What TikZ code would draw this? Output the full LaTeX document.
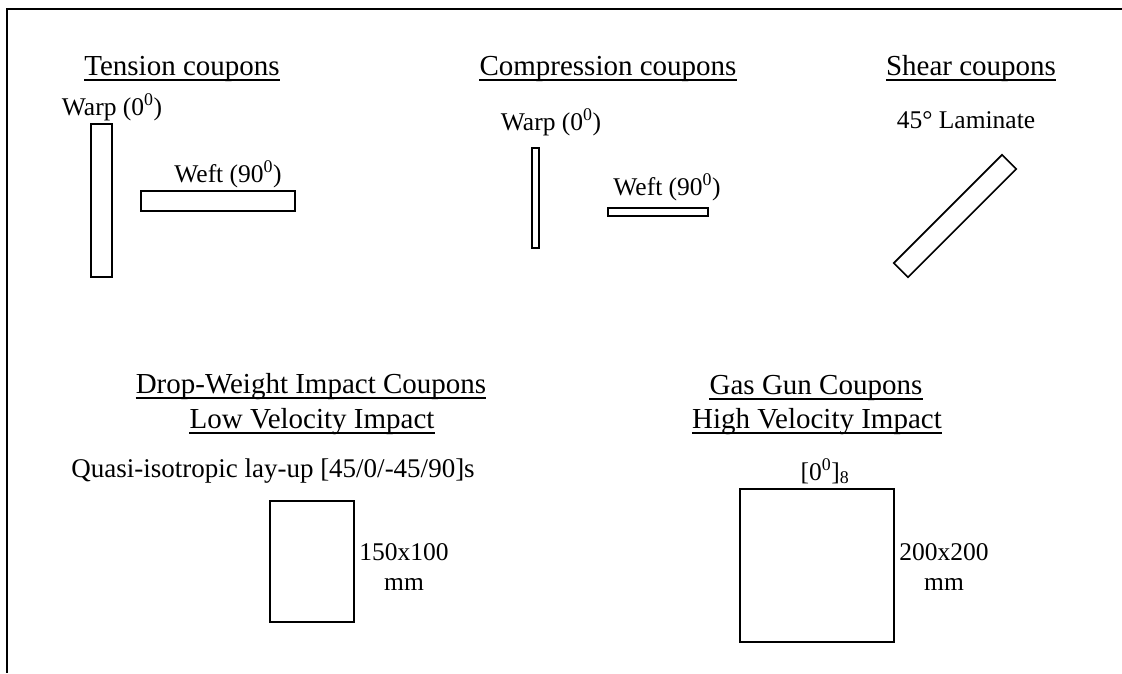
\documentclass[tikz,border=0pt]{standalone}
\usepackage{fontspec}
\setmainfont{Liberation Serif}
\usetikzlibrary{positioning}
\tikzset{
  heading/.style={inner sep=0pt,anchor=base,font=\fontsize{29}{35}\selectfont},
  note/.style={inner sep=0pt,anchor=base,align=center,font=\fontsize{25.5}{30}\selectfont},
  coupon/.style={draw,line width=1.6pt,inner sep=0pt},
  underrule/.style={line width=1.3pt},
  frameline/.style={line width=1.8pt}
}

\begin{document}
\begin{tikzpicture}[x=1pt,y=-1pt]
\useasboundingbox (0,0) rectangle (1122,673);
\draw[frameline] (1122,9) -- (7,9) -- (7,673);

% tension
\node[heading] (tenTitle) at (182,75) {Tension coupons};
\node[note] (tenWarp) at (112,115) {Warp (0\textsuperscript{0})};
\node[coupon,minimum width=21pt,minimum height=153pt] (tenWarpBar) at (101.5,200.5) {};
\node[note] (tenWeft) at (228,182) {Weft (90\textsuperscript{0})};
\node[coupon,minimum width=154pt,minimum height=20pt] (tenWeftBar) at (218,201) {};

% compression
\node[heading] (compTitle) at (608,75) {Compression coupons};
\node[note] (compWarp) at (551,130) {Warp (0\textsuperscript{0})};
\node[coupon,minimum width=7pt,minimum height=100pt] (compWarpBar) at (535.5,198) {};
\node[note] (compWeft) at (667,195) {Weft (90\textsuperscript{0})};
\node[coupon,minimum width=100pt,minimum height=8pt] (compWeftBar) at (658,212) {};

% shear
\node[heading] (shearTitle) at (971,75) {Shear coupons};
\node[note] (shearLam) at (966,128) {45° Laminate};
\node[coupon,minimum width=153pt,minimum height=20pt,rotate=45] (shearBar) at (955,216) {};

% low velocity
\node[heading] (dropTitle) at (311,393) {Drop-Weight Impact Coupons};
\node[heading] (dropSub) at (312,428) {Low Velocity Impact};
\node[note,font=\fontsize{27}{30}\selectfont] (dropLayup) at (273,477) {Quasi-isotropic lay-up [45/0/-45/90]s};
\node[coupon,minimum width=84pt,minimum height=121pt] (dropPlate) at (312,561.5) {};
\node[note] (dropSize) at (404,590) {150x100\\mm};

% high velocity
\node[heading] (gasTitle) at (816,394) {Gas Gun Coupons};
\node[heading] (gasSub) at (817,428) {High Velocity Impact};
\node[note] (gasLayup) at (825,480) {[0\textsuperscript{0}]\textsubscript{8}};
\node[coupon,minimum width=154pt,minimum height=153pt] (gasPlate) at (817,565.5) {};
\node[note] (gasSize) at (944,590) {200x200\\mm};

% underlines
\foreach \t in {tenTitle,compTitle,shearTitle,dropTitle,dropSub,gasTitle,gasSub}
  \draw[underrule] ([yshift=-5pt]\t.base west) -- ([yshift=-5pt]\t.base east);
\end{tikzpicture}
\end{document}
